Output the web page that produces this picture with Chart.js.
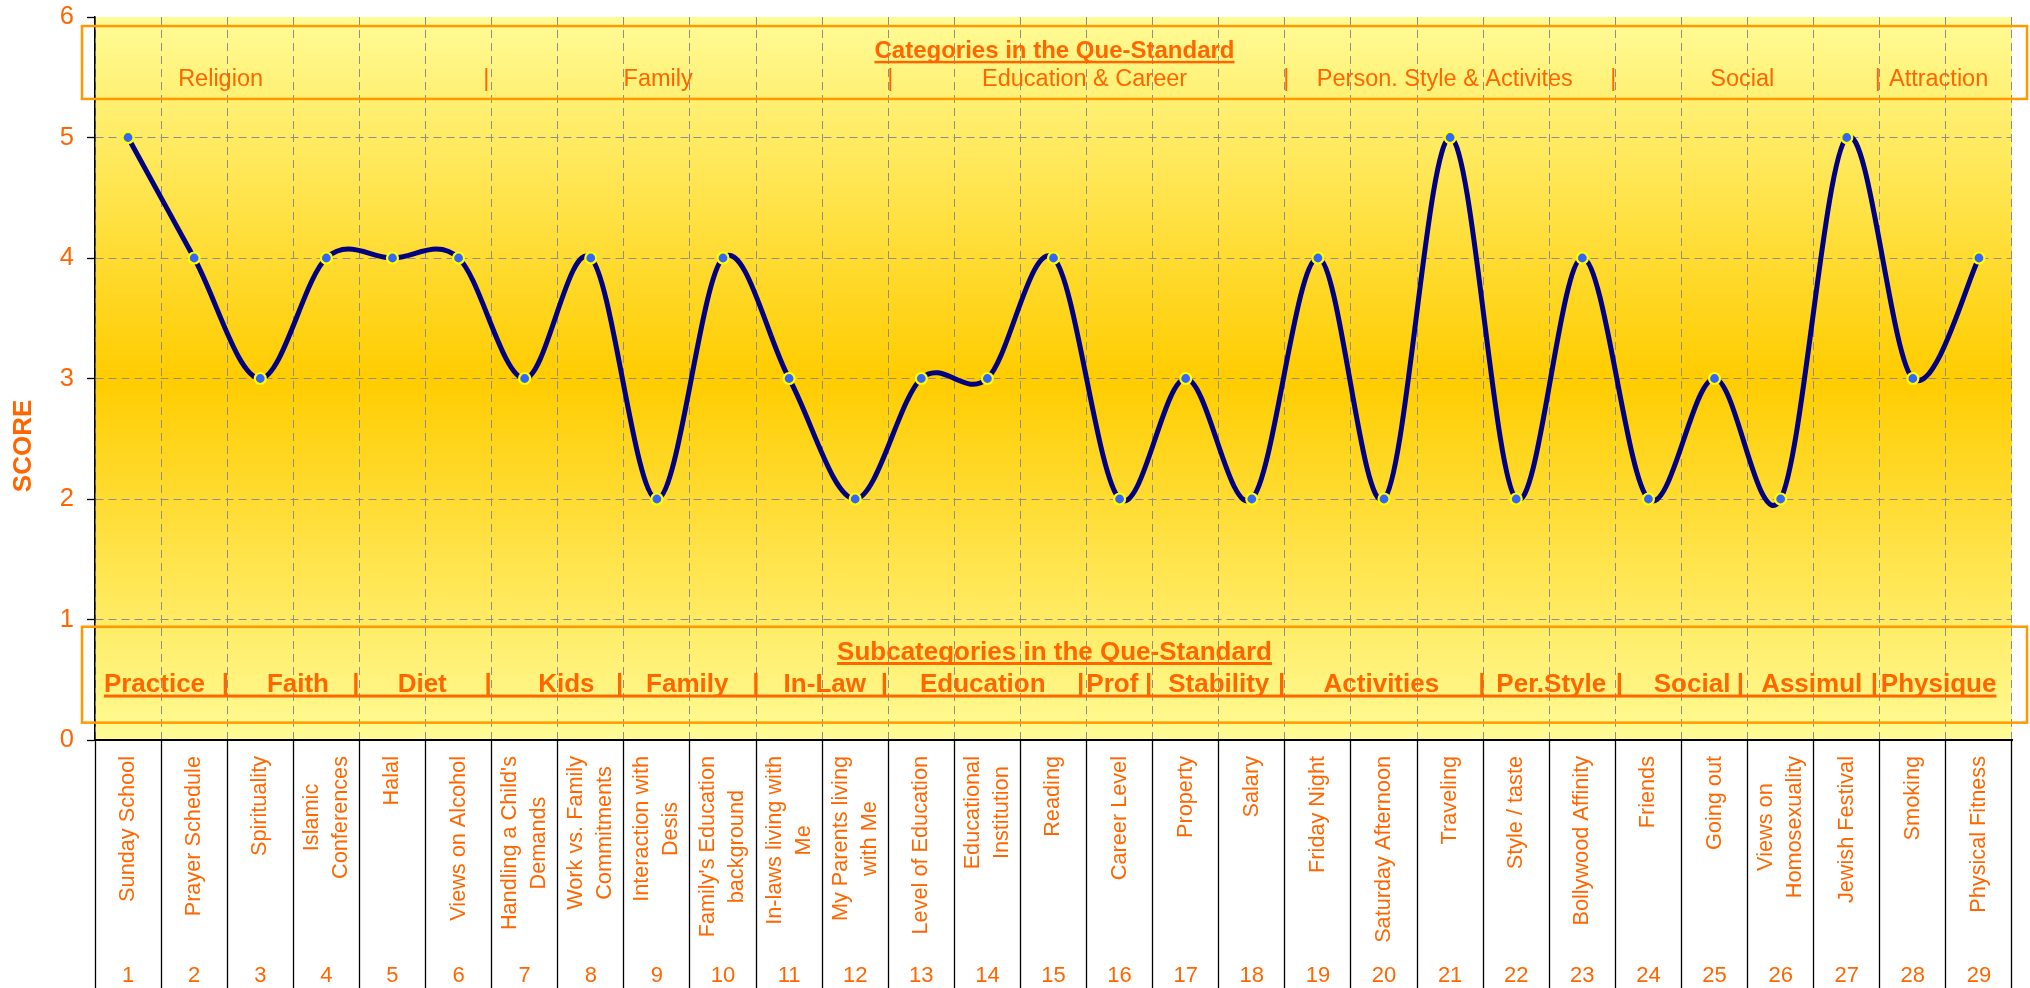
<!DOCTYPE html>
<html>
<head>
<meta charset="utf-8">
<title>Que-Standard scores</title>
<script src="https://cdn.jsdelivr.net/npm/chart.js@4.4.1/dist/chart.umd.min.js"></script>
<style>
  html, body { margin: 0; padding: 0; background: #fff; }
  #wrap { width: 2030px; height: 988px; position: relative; }
</style>
</head>
<body>
<div id="wrap"><canvas id="chart"></canvas></div>
<script>
const questions = [
  "Sunday School", "Prayer Schedule", "Spirituality", ["Islamic", "Conferences"], "Halal",
  "Views on Alcohol", ["Handling a Child's", "Demands"], ["Work vs. Family", "Commitments"],
  ["Interaction with", "Desis"], ["Family's Education", "background"], ["In-laws living with", "Me"],
  ["My Parents living", "with Me"], "Level of Education", ["Educational", "Institution"], "Reading",
  "Career Level", "Property", "Salary", "Friday Night", "Saturday Afternoon", "Traveling",
  "Style / taste", "Bollywood Affinity", "Friends", "Going out", ["Views on", "Homosexuality"],
  "Jewish Festival", "Smoking", "Physical Fitness"
];
const questionNumbers = ["1", "2", "3", "4", "5", "6", "7", "8", "9", "10", "11", "12", "13", "14", "15",
  "16", "17", "18", "19", "20", "21", "22", "23", "24", "25", "26", "27", "28", "29"];
const scores = [5, 4, 3, 4, 4, 4, 3, 4, 2, 4, 3, 2, 3, 3, 4, 2, 3, 2, 4, 2, 5, 2, 4, 2, 3, 2, 5, 3, 4];

const categories = ["Religion", "Family", "Education & Career", "Person. Style & Activites", "Social", "Attraction"];
const subcategories = ["Practice", "Faith", "Diet", "Kids", "Family", "In-Law", "Education", "Prof",
  "Stability", "Activities", "Per.Style", "Social", "Assimul", "Physique"];

const ORANGE = "#FF6600";
const BOX = "#FF9900";
const GRID = "#8E8E8E";
const FONT = '"Liberation Sans", Arial, sans-serif';
Chart.defaults.font.family = FONT;

// where the text box pieces sit, in category widths from the left edge of the plot
const catAt = [1.9, 8.52, 14.97, 20.42, 24.92, 27.89];
const catBars = [5.92, 12.03, 18.02, 22.97, 26.97];
const subAt = [0.9, 3.07, 4.95, 7.13, 8.96, 11.04, 13.43, 15.39, 17.0, 19.46, 22.03, 24.16, 25.97, 27.89];
const subBars = [1.973, 3.946, 5.946, 7.937, 9.997, 11.94, 14.91, 15.94, 17.95, 20.98, 23.06, 24.89, 26.92];

// excel style smoothing (catmull-rom) instead of chart.js spline
const excelSmooth = {
  id: "excelSmooth",
  beforeDatasetsDraw(chart) {
    const meta = chart.getDatasetMeta(0);
    const pts = meta.data;
    pts.forEach((p, i) => {
      const prev = pts[Math.max(i - 1, 0)];
      const next = pts[Math.min(i + 1, pts.length - 1)];
      const dx = (next.x - prev.x) / 6;
      const dy = (next.y - prev.y) / 6;
      p.cp1x = p.x - dx; p.cp1y = p.y - dy;
      p.cp2x = p.x + dx; p.cp2y = p.y + dy;
    });
    meta.dataset._pointsUpdated = true;
    meta.dataset._path = undefined;
  }
};

function underlined(ctx, text, cx, base, thick) {
  const w = ctx.measureText(text).width;
  ctx.fillText(text, cx, base);
  ctx.fillRect(cx - w / 2, base + 2.5, w, thick);
}

const overlay = {
  id: "overlay",
  beforeDraw(chart) {
    const { ctx, chartArea: a } = chart;
    const g = ctx.createLinearGradient(0, a.top, 0, a.bottom);
    g.addColorStop(0, "#FFFB96");
    g.addColorStop(0.5, "#FFCC00");
    g.addColorStop(1, "#FFFB96");
    ctx.save();
    ctx.fillStyle = g;
    ctx.fillRect(a.left, a.top, a.right - a.left, a.bottom - a.top);
    ctx.restore();
  },
  afterDraw(chart) {
    const { ctx, chartArea: a, scales: { x, y } } = chart;
    const at = (u) => x.getPixelForValue(u - 0.5);
    const boxL = a.left - 13, boxR = a.right + 15, mid = (boxL + boxR) / 2;
    ctx.save();

    // the two text boxes
    ctx.strokeStyle = BOX;
    ctx.lineWidth = 2.5;
    let t = y.getPixelForValue(5.925), b = y.getPixelForValue(5.32);
    ctx.strokeRect(boxL, t, boxR - boxL, b - t);
    t = y.getPixelForValue(0.94); b = y.getPixelForValue(0.144);
    ctx.strokeRect(boxL, t, boxR - boxL, b - t);

    ctx.fillStyle = ORANGE;
    ctx.textAlign = "center";
    ctx.textBaseline = "alphabetic";

    ctx.font = "bold 24px " + FONT;
    underlined(ctx, "Categories in the Que-Standard", mid, y.getPixelForValue(5.657), 2.5);
    ctx.font = "23.5px " + FONT;
    const catBase = y.getPixelForValue(5.43);
    categories.forEach((c, i) => ctx.fillText(c, at(catAt[i]), catBase));
    catBars.forEach((u) => ctx.fillText("|", at(u), catBase));

    ctx.font = "bold 26px " + FONT;
    underlined(ctx, "Subcategories in the Que-Standard", mid, y.getPixelForValue(0.668), 3);
    const subBase = y.getPixelForValue(0.398);
    subcategories.forEach((c, i) => ctx.fillText(c, at(subAt[i]), subBase));
    subBars.forEach((u) => ctx.fillText("|", at(u), subBase));
    const first = at(subAt[0]) - ctx.measureText(subcategories[0]).width / 2;
    const lastW = ctx.measureText(subcategories[subcategories.length - 1]).width;
    const last = at(subAt[subAt.length - 1]) + lastW / 2;
    ctx.fillRect(first, subBase + 2.5, last - first, 3);

    // axis title
    ctx.save();
    ctx.font = "bold 26px " + FONT;
    ctx.translate(24, y.getPixelForValue(2.44));
    ctx.rotate(-Math.PI / 2);
    ctx.textBaseline = "middle";
    ctx.fillText("SCORE", 0, 0);
    ctx.restore();

    // question names, rotated, and their numbers
    ctx.font = "21.7px " + FONT;
    questions.forEach((q, i) => {
      const lines = Array.isArray(q) ? q : [q];
      const w = Math.max(...lines.map((l) => ctx.measureText(l).width));
      ctx.save();
      ctx.translate(x.getPixelForValue(i), a.bottom + 16 + w / 2);
      ctx.rotate(-Math.PI / 2);
      ctx.textBaseline = "middle";
      lines.forEach((l, k) => ctx.fillText(l, 0, (k - (lines.length - 1) / 2) * 29));
      ctx.restore();
    });
    ctx.font = "22px " + FONT;
    questionNumbers.forEach((n, i) => ctx.fillText(n, x.getPixelForValue(i), a.bottom + 242));

    ctx.restore();
  }
};

new Chart(document.getElementById("chart"), {
  type: "line",
  data: {
    labels: questionNumbers,
    datasets: [{
      data: scores,
      borderColor: "#000080",
      borderWidth: 5,
      tension: 0.4,
      pointRadius: 5.5,
      pointHoverRadius: 5.5,
      pointBackgroundColor: "#3366FF",
      pointBorderColor: "#FFFF00",
      pointBorderWidth: 2.2,
      clip: false,
    }],
  },
  options: {
    responsive: true,
    maintainAspectRatio: false,
    animation: false,
    layout: { padding: { top: 17, right: 18, left: 0, bottom: 0 } },
    plugins: {
      legend: { display: false },
      tooltip: { enabled: false },
    },
    scales: {
      x: {
        offset: true,
        ticks: { display: false },
        grid: {
          offset: true,
          color: GRID,
          lineWidth: 1,
          tickLength: 248,
          tickColor: "#000",
          tickWidth: 1.3,
          tickBorderDash: [],
        },
        border: { color: "#000", width: 2, dash: [8, 5] },
        afterFit: (s) => { s.height = 248; },
      },
      y: {
        min: 0,
        max: 6,
        ticks: { stepSize: 1, color: ORANGE, font: { size: 25.5 }, padding: 13 },
        grid: {
          color: (c) => (c.tick && c.tick.value === 6 ? "rgba(0,0,0,0)" : GRID),
          tickColor: "#000",
          tickLength: 8,
          tickWidth: 1.3,
          tickBorderDash: [],
        },
        border: { color: "#000", width: 1.5, dash: [8, 5] },
        afterFit: (s) => {
          s.width = 95;
          s.paddingTop = 0;
          s.paddingBottom = 0;
        },
      },
    },
  },
  plugins: [overlay, excelSmooth],
});
</script>
</body>
</html>
